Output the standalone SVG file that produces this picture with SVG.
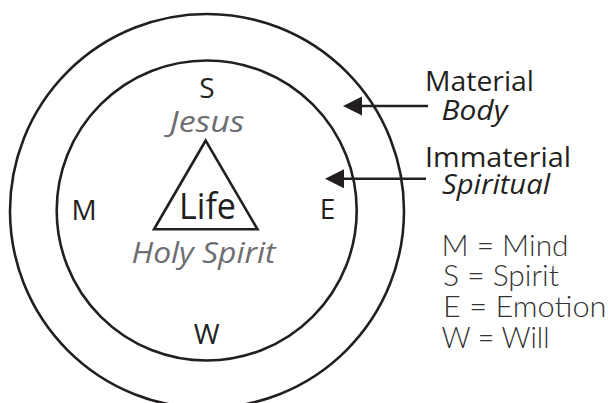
<svg xmlns="http://www.w3.org/2000/svg" width="608" height="403" viewBox="0 0 608 403">
<style>
.ln{fill:none;stroke:#231f20;stroke-width:2.6}
.t{font-family:"Open Sans","Noto Sans","Liberation Sans",sans-serif;fill:#231f20;font-size:28px}
.c{text-anchor:middle}
.it{font-style:italic}
.g{fill:#6d6e71}
.lt{font-family:Lato,"Open Sans","Noto Sans",sans-serif;font-weight:300;font-size:29px;fill:#333}
</style>
<defs>
<marker id="ah" viewBox="0 0 10 10" refX="0" refY="5" markerWidth="19" markerHeight="20" markerUnits="userSpaceOnUse" orient="auto-start-reverse">
<path d="M0,0 L10,5 L0,10 Z" fill="#231f20"/>
</marker>
</defs>
<g id="outer"><circle class="ln" cx="207" cy="211" r="197"/></g>
<g id="inner"><circle class="ln" cx="206.7" cy="210.5" r="150"/></g>
<g id="triangle"><polygon class="ln" points="205.7,140.5 154,229.3 257.5,229.3"/>
<text class="t c" x="207.5" y="219" style="font-size:37px" textLength="57" lengthAdjust="spacingAndGlyphs">Life</text></g>
<g id="labels">
<text class="t c" x="207" y="97.5">S</text>
<text class="t c it g" x="207" y="132.3" style="font-size:30px" textLength="75" lengthAdjust="spacingAndGlyphs">Jesus</text>
<text class="t c it g" x="203.5" y="263.3" style="font-size:30px" textLength="144" lengthAdjust="spacingAndGlyphs">Holy Spirit</text>
<text class="t c" x="84" y="220">M</text>
<text class="t c" x="327.5" y="218.5">E</text>
<text class="t c" x="206.7" y="343.5">W</text>
</g>
<g id="connectors">
<line class="ln" x1="428" y1="106" x2="362" y2="106" stroke-width="3" marker-end="url(#ah)"/>
<line class="ln" x1="426" y1="178.7" x2="344" y2="178.7" stroke-width="3" marker-end="url(#ah)"/>
</g>
<g id="material"><text class="t" x="425" y="91.3" textLength="109" lengthAdjust="spacingAndGlyphs">Material</text>
<text class="t it" x="441.5" y="119.8" textLength="66" lengthAdjust="spacingAndGlyphs">Body</text></g>
<g id="immaterial"><text class="t" x="425" y="167.3" textLength="146" lengthAdjust="spacingAndGlyphs">Immaterial</text>
<text class="t it" x="442" y="193.8" textLength="108" lengthAdjust="spacingAndGlyphs">Spiritual</text></g>
<g id="legend">
<text class="t lt" x="441.5" y="255.5" textLength="127" lengthAdjust="spacingAndGlyphs">M = Mind</text>
<text class="t lt" x="443" y="285.8" textLength="116" lengthAdjust="spacingAndGlyphs">S = Spirit</text>
<text class="t lt" x="443" y="316.8" textLength="163.5" lengthAdjust="spacingAndGlyphs">E = Emotion</text>
<text class="t lt" x="441.5" y="347.5" textLength="108" lengthAdjust="spacingAndGlyphs">W = Will</text>
</g>
</svg>
